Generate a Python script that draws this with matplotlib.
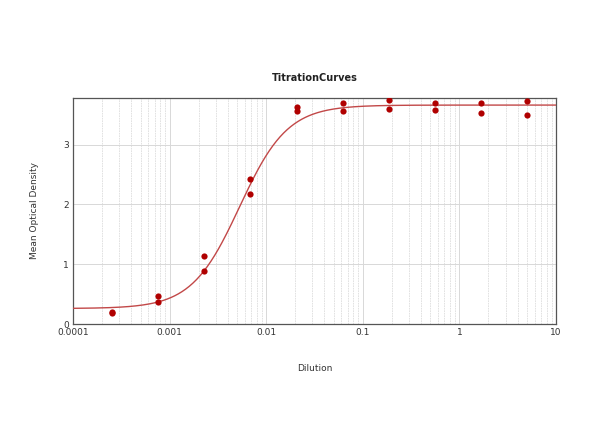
import numpy as np
import matplotlib.pyplot as plt
from matplotlib.ticker import FixedLocator, LogLocator, NullFormatter

# --- DATA ---
dilution = [0.000254, 0.000762, 0.00229, 0.00686, 0.0206,
            0.0617, 0.185, 0.556, 1.667, 5.0]
od_rep1 = [0.20, 0.47, 1.13, 2.42, 3.62, 3.70, 3.75, 3.69, 3.70, 3.72]
od_rep2 = [0.18, 0.37, 0.89, 2.17, 3.56, 3.56, 3.59, 3.58, 3.53, 3.50]

# 4-parameter logistic fit (bottom, top, EC50, hill slope) estimated from the curve
fit_bottom = 0.26
fit_top = 3.66
fit_ec50 = 0.0053
fit_hill = 1.75

x_ticks = [0.0001, 0.001, 0.01, 0.1, 1, 10]
x_tick_labels = ["0.0001", "0.001", "0.01", "0.1", "1", "10"]
y_ticks = [0, 1, 2, 3]

# --- PLOT ---
fig = plt.figure(figsize=(6, 4.47), dpi=100)
ax = fig.add_axes([0.1217, 0.275, 0.805, 0.506])

xs = np.logspace(-4, 1, 400)
ys = (fit_bottom - fit_top) / (1 + (xs / fit_ec50) ** fit_hill) + fit_top
ax.plot(xs, ys, color="#c24848", lw=1.0, zorder=3)

ax.scatter(dilution, od_rep1, s=20, color="#b00000", zorder=4, linewidths=0)
ax.scatter(dilution, od_rep2, s=20, color="#b00000", zorder=4, linewidths=0)

ax.set_xscale("log")
ax.set_xlim(0.0001, 10)
ax.set_ylim(0, 3.78)

ax.xaxis.set_major_locator(FixedLocator(x_ticks))
ax.set_xticklabels(x_tick_labels)
ax.xaxis.set_minor_locator(LogLocator(base=10, subs=np.arange(2, 10)))
ax.xaxis.set_minor_formatter(NullFormatter())
ax.set_yticks(y_ticks)

ax.grid(True, which="major", color="#d8d8d8", lw=0.7)
ax.grid(True, which="minor", axis="x", color="#dddddd", lw=0.6, ls=(0, (2, 1)))
ax.set_axisbelow(True)

ax.tick_params(which="both", length=0, labelsize=6.5, colors="#333333", pad=3)
for side in ["top", "bottom", "left", "right"]:
    ax.spines[side].set_color("#555555")
    ax.spines[side].set_linewidth(0.9)

ax.set_title("TitrationCurves", fontsize=7, fontweight="bold", color="#222222", pad=12)
ax.set_xlabel("Dilution", fontsize=6.5, color="#333333", labelpad=19)
ax.set_ylabel("Mean Optical Density", fontsize=6.5, color="#333333", labelpad=17)

plt.savefig("out.png", dpi=100)
